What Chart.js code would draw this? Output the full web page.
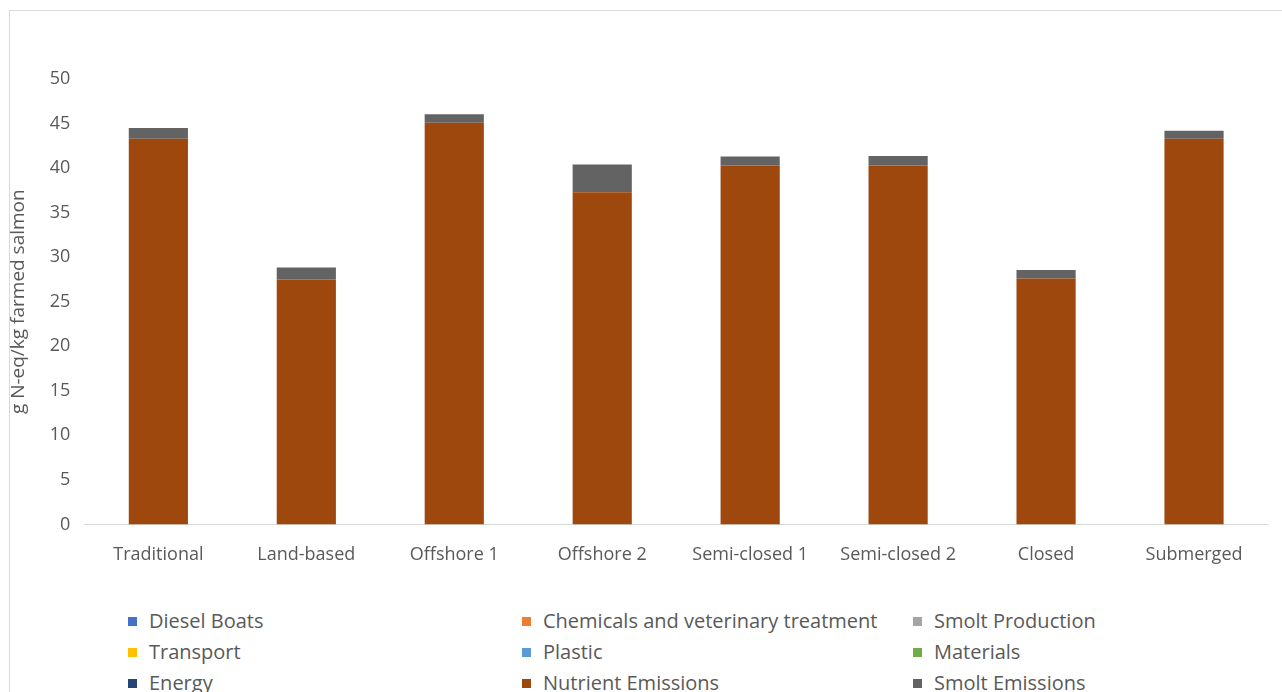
<!DOCTYPE html>
<html>
<head>
<meta charset="utf-8">
<script src="https://cdn.jsdelivr.net/npm/chart.js@4/dist/chart.umd.min.js"></script>
<style>
  body { margin: 0; background: #fff; overflow: hidden; }
  #frame { position: absolute; left: 9px; top: 10px; width: 1290px; height: 700px; border: 1px solid #d9d9d9; }
  #wrap { position: absolute; left: 0; top: 0; width: 1282px; height: 589px; }
  #legend { position: absolute; left: 0; top: 607px; width: 1282px; font-family: "Open Sans", sans-serif; font-size: 20px; color: #595959; }
  .item { position: absolute; white-space: nowrap; line-height: 28px; }
  .box { display: inline-block; width: 9px; height: 9px; margin-right: 12px; vertical-align: 2px; }
</style>
</head>
<body>
<div id="frame"></div>
<div id="wrap"><canvas id="chart"></canvas></div>
<div id="legend"></div>
<script>
const categories = ['Traditional', 'Land-based', 'Offshore 1', 'Offshore 2', 'Semi-closed 1', 'Semi-closed 2', 'Closed', 'Submerged'];

// values in g N-eq/kg farmed salmon
const dieselBoats = [0, 0, 0, 0, 0, 0, 0, 0];
const chemicals = [0, 0, 0, 0, 0, 0, 0, 0];
const smoltProduction = [0, 0, 0, 0, 0, 0, 0, 0];
const transport = [0, 0, 0, 0, 0, 0, 0, 0];
const plastic = [0, 0, 0, 0, 0, 0, 0, 0];
const materials = [0, 0, 0, 0, 0, 0, 0, 0];
const energy = [0, 0, 0, 0, 0, 0, 0, 0];
const nutrientEmissions = [43.3, 27.5, 45.1, 37.3, 40.3, 40.3, 27.6, 43.3];
const smoltEmissions = [1.2, 1.35, 0.95, 3.1, 1.0, 1.05, 0.95, 0.9];

const yTicks = [0, 5, 10, 15, 20, 25, 30, 35, 40, 45, 50];

const series = [
  { label: 'Diesel Boats', data: dieselBoats, color: '#4472C4' },
  { label: 'Chemicals and veterinary treatment', data: chemicals, color: '#ED7D31' },
  { label: 'Smolt Production', data: smoltProduction, color: '#A5A5A5' },
  { label: 'Transport', data: transport, color: '#FFC000' },
  { label: 'Plastic', data: plastic, color: '#5B9BD5' },
  { label: 'Materials', data: materials, color: '#70AD47' },
  { label: 'Energy', data: energy, color: '#264478' },
  { label: 'Nutrient Emissions', data: nutrientEmissions, color: '#9E480E' },
  { label: 'Smolt Emissions', data: smoltEmissions, color: '#636363' },
];

const chart = new Chart(document.getElementById('chart').getContext('2d'), {
  type: 'bar',
  data: {
    labels: categories,
    datasets: series.map(s => ({
      label: s.label,
      data: s.data,
      backgroundColor: s.color,
      borderWidth: 0,
      categoryPercentage: 1,
      barPercentage: 0.4,
    })),
  },
  options: {
    responsive: true,
    maintainAspectRatio: false,
    animation: false,
    layout: { padding: { top: 79, right: 14, left: 1, bottom: 3 } },
    plugins: {
      legend: { display: false },
      tooltip: { enabled: false },
    },
    scales: {
      x: {
        stacked: true,
        grid: { display: false, drawTicks: false },
        border: { color: '#d9d9d9', width: 1 },
        ticks: { color: '#595959', font: { family: 'Open Sans', size: 18 }, padding: 20 },
      },
      y: {
        stacked: true,
        min: 0,
        max: 50,
        afterBuildTicks: axis => { axis.ticks = yTicks.map(v => ({ value: v })); },
        grid: { display: false, drawTicks: false },
        border: { display: false },
        ticks: { color: '#595959', font: { family: 'Open Sans', size: 18 }, padding: 14 },
        title: {
          display: true,
          text: 'g N-eq/kg farmed salmon',
          color: '#595959',
          font: { family: 'Open Sans', size: 19 },
          padding: 6,
        },
      },
    },
  },
});

// legend in three columns, like the original
const legend = document.getElementById('legend');
const colX = [128, 522, 913];
chart.data.datasets.forEach((ds, i) => {
  const el = document.createElement('div');
  el.className = 'item';
  el.style.left = colX[i % 3] + 'px';
  el.style.top = Math.floor(i / 3) * 31 + 'px';
  el.innerHTML = '<span class="box" style="background:' + ds.backgroundColor + '"></span>' + ds.label;
  legend.appendChild(el);
});
</script>
</body>
</html>
